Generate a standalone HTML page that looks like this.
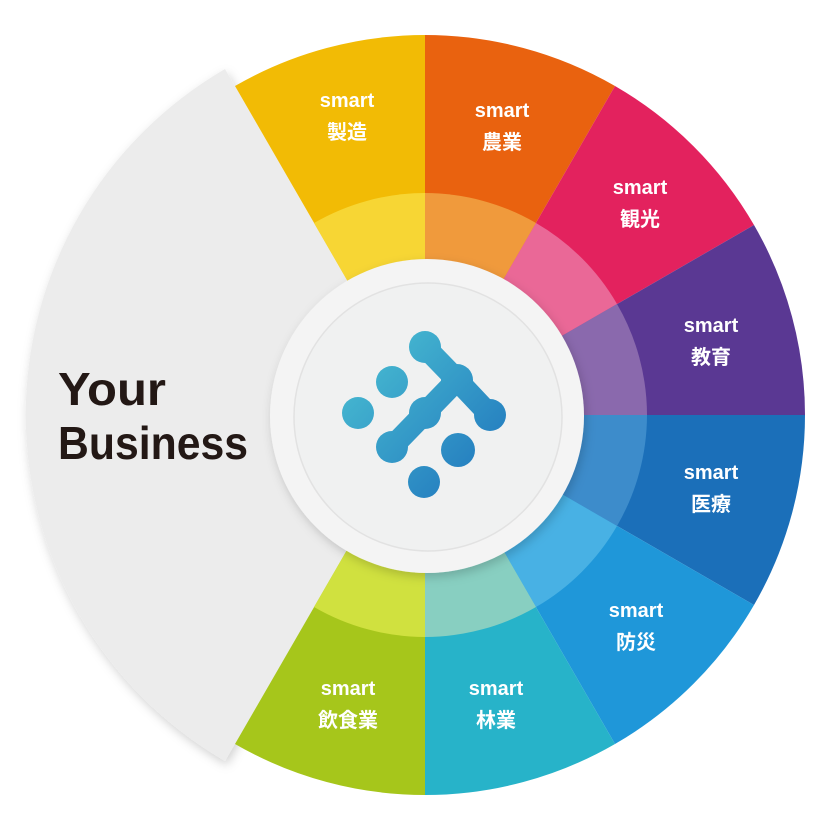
<!DOCTYPE html>
<html><head><meta charset="utf-8"><style>
html,body{margin:0;padding:0;background:#fff;}
svg{display:block}
text{font-family:"Liberation Sans","Noto Sans CJK JP",sans-serif;}
</style></head><body>
<svg width="840" height="840" viewBox="0 0 840 840" xmlns="http://www.w3.org/2000/svg">
<defs>
<linearGradient id="lg" gradientUnits="userSpaceOnUse" x1="340" y1="340" x2="500" y2="490">
<stop offset="0" stop-color="#4cc3d3"/><stop offset="1" stop-color="#1f74bd"/>
</linearGradient>
<filter id="sh" x="-20%" y="-20%" width="140%" height="140%">
<feDropShadow dx="2" dy="4" stdDeviation="5" flood-color="#000" flood-opacity="0.18"/>
</filter>
</defs>
<path d="M425,415 L225,761 A400,400 0 0 1 225,69 Z" fill="#ececec" filter="url(#sh)"/>
<path d="M425,415 L235,86 A380,380 0 0 1 425,35 Z" fill="#f2bb05"/>
<path d="M425,415 L425,35 A380,380 0 0 1 615,86 Z" fill="#e9620f"/>
<path d="M425,415 L615,86 A380,380 0 0 1 754,225 Z" fill="#e3225e"/>
<path d="M425,415 L754,225 A380,380 0 0 1 805,415 Z" fill="#5a3893"/>
<path d="M425,415 L805,415 A380,380 0 0 1 754,605 Z" fill="#1b6fb9"/>
<path d="M425,415 L754,605 A380,380 0 0 1 615,744 Z" fill="#1f97d9"/>
<path d="M425,415 L615,744 A380,380 0 0 1 425,795 Z" fill="#27b3c9"/>
<path d="M425,415 L425,795 A380,380 0 0 1 235,744 Z" fill="#a6c61b"/>
<path d="M425,415 L314,223 A222,222 0 0 1 425,193 Z" fill="#f7d634"/>
<path d="M425,415 L425,193 A222,222 0 0 1 536,223 Z" fill="#f09a3c"/>
<path d="M425,415 L536,223 A222,222 0 0 1 617,304 Z" fill="#ea6897"/>
<path d="M425,415 L617,304 A222,222 0 0 1 647,415 Z" fill="#8a69ad"/>
<path d="M425,415 L647,415 A222,222 0 0 1 617,526 Z" fill="#3d8ccb"/>
<path d="M425,415 L617,526 A222,222 0 0 1 536,607 Z" fill="#48b1e4"/>
<path d="M425,415 L536,607 A222,222 0 0 1 425,637 Z" fill="#88cfc1"/>
<path d="M425,415 L425,637 A222,222 0 0 1 314,607 Z" fill="#d0e13f"/>
<circle cx="427" cy="416" r="157" fill="#f4f4f4" filter="url(#sh)"/>
<circle cx="428" cy="417" r="134" fill="#f0f1f1" stroke="#e2e2e2" stroke-width="1.5"/>
<g fill="url(#lg)" stroke="url(#lg)">
<path d="M425,347 L457,380 L490,415 M457,380 L425,413 L392,447" fill="none" stroke-width="22" stroke-linecap="round" stroke-linejoin="round"/>
<circle cx="425" cy="347" r="16" stroke="none"/>
<circle cx="457" cy="380" r="16" stroke="none"/>
<circle cx="490" cy="415" r="16" stroke="none"/>
<circle cx="425" cy="413" r="16" stroke="none"/>
<circle cx="392" cy="447" r="16" stroke="none"/>
<circle cx="358" cy="413" r="16" stroke="none"/>
<circle cx="392" cy="382" r="16" stroke="none"/>
<circle cx="458" cy="450" r="17" stroke="none"/>
<circle cx="424" cy="482" r="16" stroke="none"/>
</g>
<g fill="#fff" font-weight="bold" font-size="20" text-anchor="middle">
<text x="347" y="107">smart</text><text x="347" y="139">製造</text>
<text x="502" y="117">smart</text><text x="502" y="149">農業</text>
<text x="640" y="194">smart</text><text x="640" y="226">観光</text>
<text x="711" y="332">smart</text><text x="711" y="364">教育</text>
<text x="711" y="479">smart</text><text x="711" y="511">医療</text>
<text x="636" y="617">smart</text><text x="636" y="649">防災</text>
<text x="496" y="695">smart</text><text x="496" y="727">林業</text>
<text x="348" y="695">smart</text><text x="348" y="727">飲食業</text>
</g>
<g fill="#231815" font-weight="bold" font-size="46">
<text x="58" y="405" textLength="108" lengthAdjust="spacingAndGlyphs">Your</text>
<text x="58" y="459" textLength="190" lengthAdjust="spacingAndGlyphs">Business</text>
</g>
</svg>
</body></html>
